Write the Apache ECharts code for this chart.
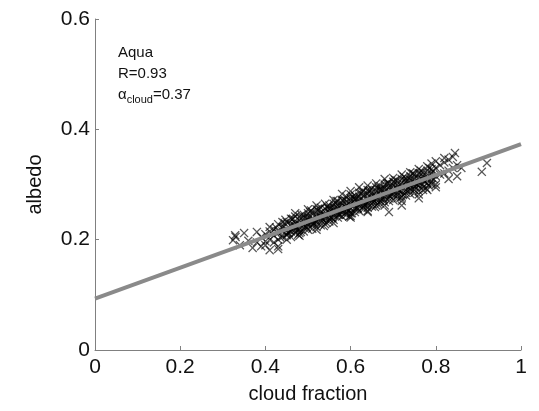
<!DOCTYPE html>
<html>
<head>
<meta charset="utf-8">
<script src="https://cdn.jsdelivr.net/npm/echarts@6/dist/echarts.min.js"></script>
<style>
  html, body { margin: 0; padding: 0; background: #fff; }
  #chart { width: 539px; height: 411px; }
</style>
</head>
<body>
<div id="chart"></div>
<script>
// Aqua: cloud fraction vs albedo samples
const samples = [
  [0.33,0.205],[0.324,0.199],[0.329,0.208],[0.34,0.19],[0.35,0.212],[0.36,0.198],[0.37,0.185],[0.38,0.214],[0.38,0.195],[0.39,0.205],[0.39,0.188],
  [0.40,0.21],[0.40,0.197],[0.41,0.215],[0.41,0.2],[0.41,0.223],[0.42,0.207],[0.42,0.195],[0.42,0.218],[0.43,0.212],[0.43,0.228],[0.43,0.2],[0.43,0.188],
  [0.44,0.215],[0.44,0.222],[0.44,0.205],[0.45,0.218],[0.45,0.232],[0.45,0.21],[0.45,0.2],[0.46,0.225],[0.46,0.215],[0.46,0.238],[0.46,0.205],
  [0.47,0.222],[0.47,0.23],[0.47,0.212],[0.47,0.242],[0.48,0.228],[0.48,0.219],[0.48,0.235],[0.48,0.207],[0.49,0.232],[0.49,0.222],[0.49,0.245],[0.49,0.215],
  [0.50,0.236],[0.50,0.226],[0.50,0.248],[0.50,0.218],[0.50,0.24],[0.51,0.235],[0.51,0.228],[0.51,0.25],[0.51,0.22],[0.52,0.24],[0.52,0.232],[0.52,0.255],[0.52,0.223],
  [0.53,0.243],[0.53,0.235],[0.53,0.258],[0.53,0.226],[0.54,0.245],[0.54,0.238],[0.54,0.256],[0.54,0.228],[0.55,0.25],[0.55,0.242],[0.55,0.262],[0.55,0.233],
  [0.56,0.252],[0.56,0.245],[0.56,0.265],[0.56,0.236],[0.57,0.256],[0.57,0.248],[0.57,0.27],[0.57,0.24],
  [0.58,0.258],[0.58,0.25],[0.58,0.272],[0.58,0.242],[0.59,0.262],[0.59,0.254],[0.59,0.278],[0.59,0.245],[0.60,0.265],[0.60,0.256],[0.60,0.282],[0.60,0.248],[0.60,0.27],
  [0.61,0.266],[0.61,0.258],[0.61,0.28],[0.61,0.25],[0.62,0.27],[0.62,0.262],[0.62,0.285],[0.62,0.252],[0.63,0.272],[0.63,0.264],[0.63,0.288],[0.63,0.255],
  [0.64,0.275],[0.64,0.266],[0.64,0.29],[0.64,0.258],[0.65,0.278],[0.65,0.27],[0.65,0.292],[0.65,0.26],[0.66,0.28],[0.66,0.272],[0.66,0.295],[0.66,0.262],
  [0.67,0.283],[0.67,0.275],[0.67,0.297],[0.67,0.265],[0.68,0.286],[0.68,0.278],[0.68,0.3],[0.68,0.268],[0.69,0.288],[0.69,0.28],[0.69,0.302],[0.69,0.27],
  [0.70,0.29],[0.70,0.283],[0.70,0.305],[0.70,0.272],[0.71,0.293],[0.71,0.285],[0.71,0.307],[0.71,0.275],[0.72,0.296],[0.72,0.288],[0.72,0.31],[0.72,0.278],
  [0.73,0.298],[0.73,0.29],[0.73,0.312],[0.73,0.28],[0.74,0.3],[0.74,0.292],[0.74,0.315],[0.74,0.283],[0.75,0.303],[0.75,0.296],[0.75,0.318],[0.75,0.285],
  [0.76,0.305],[0.76,0.298],[0.76,0.32],[0.76,0.288],[0.77,0.308],[0.77,0.3],[0.77,0.322],[0.77,0.29],[0.78,0.31],[0.78,0.302],[0.78,0.325],
  [0.79,0.312],[0.79,0.305],[0.79,0.328],[0.80,0.315],[0.80,0.33],[0.80,0.3],[0.81,0.318],[0.81,0.335],[0.82,0.32],[0.82,0.34],[0.83,0.325],[0.83,0.345],
  [0.84,0.33],[0.84,0.35],[0.85,0.335],[0.86,0.33],
  [0.44,0.232],[0.46,0.228],[0.48,0.242],[0.50,0.23],[0.52,0.246],[0.53,0.25],[0.55,0.255],[0.56,0.258],[0.57,0.262],[0.58,0.265],[0.59,0.27],[0.60,0.275],
  [0.61,0.273],[0.62,0.278],[0.63,0.28],[0.64,0.283],[0.65,0.285],[0.66,0.288],[0.67,0.29],[0.68,0.293],[0.69,0.295],[0.70,0.298],[0.71,0.3],[0.72,0.303],
  [0.73,0.305],[0.74,0.308],[0.75,0.31],[0.76,0.313],[0.77,0.315],[0.78,0.318],[0.79,0.32],
  [0.45,0.208],[0.47,0.218],[0.49,0.226],[0.51,0.232],[0.53,0.24],[0.55,0.238],[0.57,0.245],[0.59,0.25],[0.61,0.255],[0.63,0.26],[0.65,0.265],[0.67,0.27],
  [0.69,0.275],[0.71,0.28],[0.73,0.285],[0.75,0.29],[0.77,0.295],[0.79,0.3],
  [0.50,0.255],[0.54,0.265],[0.58,0.283],[0.62,0.295],[0.66,0.302],[0.70,0.312],[0.74,0.322],[0.78,0.333],[0.80,0.342],[0.82,0.348],[0.845,0.357],
  [0.60,0.24],[0.64,0.25],[0.69,0.25],[0.72,0.262],[0.76,0.275],[0.78,0.29],[0.83,0.31],[0.85,0.315],[0.908,0.323],[0.92,0.339],[0.41,0.181],[0.43,0.183],[0.40,0.19],
  [0.425,0.222],[0.435,0.204],[0.445,0.23],[0.455,0.212],[0.465,0.238],[0.475,0.218],[0.485,0.245],[0.495,0.224],[0.505,0.25],[0.515,0.23],
  [0.525,0.256],[0.535,0.236],[0.545,0.26],[0.555,0.24],[0.565,0.266],[0.575,0.246],[0.585,0.273],[0.595,0.252],[0.605,0.278],[0.615,0.258],
  [0.625,0.284],[0.635,0.264],[0.645,0.29],[0.655,0.27],[0.665,0.296],[0.675,0.276],[0.685,0.302],[0.695,0.282],[0.705,0.308],[0.715,0.288],
  [0.725,0.314],[0.735,0.294],[0.745,0.32],[0.755,0.3],[0.765,0.325],[0.775,0.306],[0.785,0.33],[0.795,0.31],
  [0.43,0.216],[0.47,0.225],[0.51,0.238],[0.55,0.249],[0.59,0.258],[0.63,0.269],[0.67,0.281],[0.71,0.292],[0.75,0.303],[0.62,0.266],[0.54,0.243],
  [0.66,0.276],[0.70,0.286],[0.74,0.296],[0.58,0.254],
  [0.47,0.248],[0.52,0.262],[0.56,0.272],[0.60,0.288],[0.64,0.298],[0.68,0.31],[0.72,0.318],[0.76,0.328],[0.79,0.338],
  [0.48,0.212],[0.52,0.218],[0.56,0.23],[0.60,0.243],[0.64,0.252],[0.68,0.262],[0.72,0.27],[0.76,0.282],[0.80,0.295],
  [0.443,0.223],[0.453,0.212],[0.463,0.237],[0.473,0.222],[0.483,0.214],[0.493,0.24],[0.503,0.24],[0.513,0.229],[0.523,0.253],[0.533,0.239],
  [0.543,0.231],[0.553,0.257],[0.563,0.257],[0.573,0.245],[0.583,0.27],[0.593,0.256],[0.603,0.248],[0.613,0.274],[0.623,0.273],[0.633,0.262],
  [0.643,0.287],[0.653,0.273],[0.663,0.265],[0.673,0.29],[0.683,0.29],[0.693,0.279],[0.703,0.304],[0.713,0.29],[0.723,0.281],[0.733,0.307],
  [0.743,0.307],[0.753,0.296],[0.763,0.321],[0.773,0.306],[0.783,0.298],[0.793,0.324],
  [0.447,0.236],[0.457,0.216],[0.467,0.226],[0.477,0.209],[0.487,0.24],[0.497,0.222],[0.507,0.253],[0.517,0.233],[0.527,0.243],[0.537,0.225],
  [0.547,0.257],[0.557,0.239],[0.567,0.27],[0.577,0.25],[0.587,0.259],[0.597,0.242],[0.607,0.274],[0.617,0.256],[0.627,0.287],[0.637,0.266],
  [0.647,0.276],[0.657,0.259],[0.667,0.291],[0.677,0.273],[0.687,0.303],[0.697,0.283],[0.707,0.293],[0.717,0.276],[0.727,0.308],[0.737,0.289],
  [0.747,0.32],[0.757,0.3],[0.767,0.31],[0.777,0.293]
];

// Least-squares fit line endpoints
const fitX = [0, 1];
const fitY = [0.093, 0.373];

const xTicks = [0, 0.2, 0.4, 0.6, 0.8, 1];
const yTicks = [0, 0.2, 0.4, 0.6];

const annotation = ['Aqua', 'R=0.93', '0.37'];

const FONT = '"Liberation Sans", Arial, Helvetica, sans-serif';
const crossPath = 'path://M0,1L1,0L5,4L9,0L10,1L6,5L10,9L9,10L5,6L1,10L0,9L4,5Z';

const chart = echarts.init(document.getElementById('chart'), null, { renderer: 'canvas' });

const axisCommon = {
  type: 'value',
  nameLocation: 'middle',
  nameTextStyle: { fontFamily: FONT, fontSize: 20, color: '#111' },
  axisLine: { show: true, lineStyle: { color: '#808080', width: 1 } },
  axisTick: { show: true, inside: true, length: 4, lineStyle: { color: '#808080' } },
  splitLine: { show: false },
  axisLabel: { fontFamily: FONT, fontSize: 21, color: '#111' }
};

chart.setOption({
  animation: false,
  backgroundColor: '#fff',
  grid: { left: 95, right: 18, top: 19, bottom: 61, containLabel: false },
  xAxis: Object.assign({}, axisCommon, {
    name: 'cloud fraction', nameGap: 34,
    min: xTicks[0], max: xTicks[xTicks.length - 1], interval: 0.2,
    axisLabel: Object.assign({}, axisCommon.axisLabel, { margin: 7,
      formatter: v => String(xTicks.find(t => Math.abs(t - v) < 1e-9) ?? v) })
  }),
  yAxis: Object.assign({}, axisCommon, {
    name: 'albedo', nameGap: 50,
    min: yTicks[0], max: yTicks[yTicks.length - 1], interval: 0.2,
    axisLabel: Object.assign({}, axisCommon.axisLabel, { margin: 5,
      formatter: v => String(yTicks.find(t => Math.abs(t - v) < 1e-9) ?? v) })
  }),
  series: [
    {
      type: 'scatter',
      data: samples,
      symbol: crossPath,
      symbolSize: 9,
      itemStyle: { color: '#000', opacity: 0.66 },
      z: 2
    },
    {
      type: 'line',
      data: fitX.map((x, i) => [x, fitY[i]]),
      showSymbol: false,
      symbol: 'none',
      lineStyle: { color: '#8a8a8a', width: 4 },
      z: 3
    }
  ],
  graphic: [
    {
      type: 'text', left: 118, top: 42,
      style: {
        text: annotation[0] + '\n' + annotation[1] + '\n{a|α}{s|cloud}{a|=' + annotation[2] + '}',
        font: '15px ' + FONT, fill: '#111', lineHeight: 21,
        rich: {
          a: { fontFamily: FONT, fontSize: 15, fill: '#111', lineHeight: 21 },
          s: { fontFamily: FONT, fontSize: 11, fill: '#111', lineHeight: 21, padding: [10, 0, 0, 0] }
        }
      }
    }
  ]
});
</script>
</body>
</html>
